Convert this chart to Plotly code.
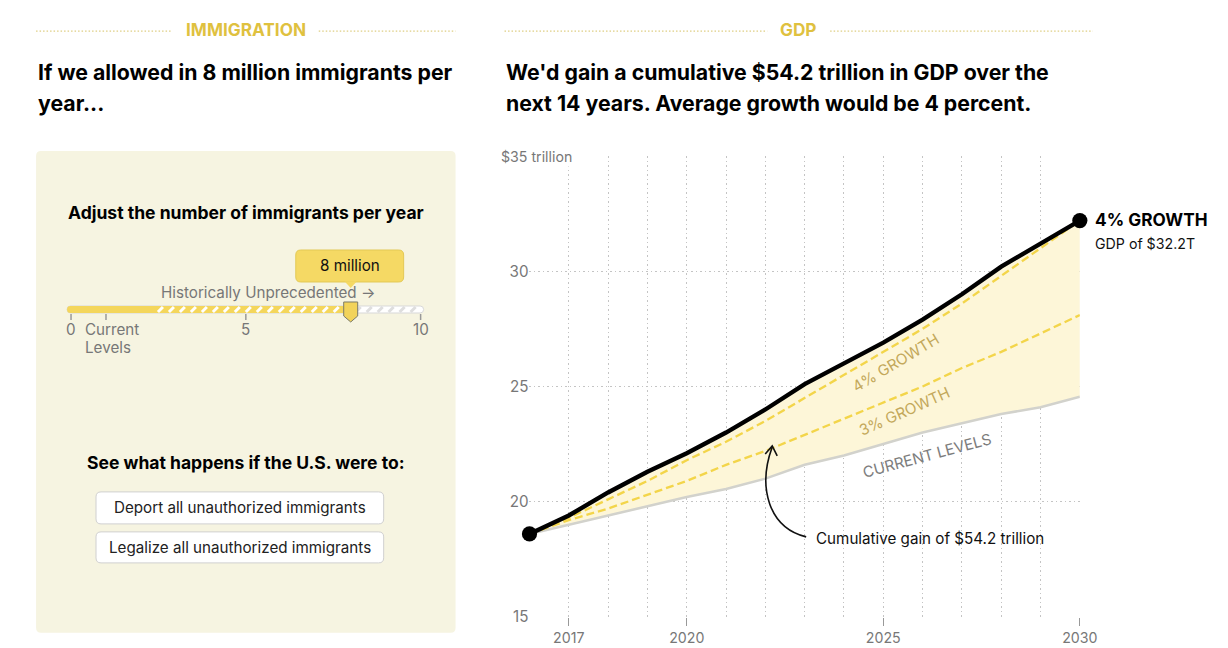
import plotly.graph_objects as go

# The photographed page adds an 8px body margin and is shrunk a little;
# positions below are given in window pixels and mapped back to figure pixels.
W, H = 1228, 648
OFF = 8
S = 0.9865

# GDP in trillions of dollars
years = list(range(2016, 2031))
gdp_8m = [18.6, 19.4, 20.4, 21.3, 22.1, 23.0, 24.0, 25.1, 26.0, 26.9, 27.9, 29.0, 30.2, 31.2, 32.2]
gdp_4pct = [18.6, 19.3, 20.1, 20.9, 21.8, 22.6, 23.5, 24.5, 25.5, 26.5, 27.5, 28.6, 29.8, 31.0, 32.2]
gdp_3pct = [18.6, 19.2, 19.7, 20.3, 20.9, 21.6, 22.2, 22.9, 23.6, 24.3, 25.0, 25.8, 26.5, 27.3, 28.1]
gdp_current = [18.6, 19.0, 19.4, 19.8, 20.2, 20.55, 21.0, 21.6, 22.0, 22.5, 23.0, 23.4, 23.8, 24.1, 24.55]

x_ticks = [2017, 2020, 2025, 2030]
y_ticks = [15, 20, 25, 30, 35]
y_ticktext = ["15", "20", "25", "30", ""]

# slider (millions of immigrants per year)
slider_ticks = [0, 1, 5, 10]
slider_value = 8

FONT = "Inter"
GOLD = "#dfc13f"
YELLOW = "#f4d65b"
GRID = "#c4c4c4"
GRID_DASH = "1.5px,3px"


def px(x):
    return (x / S - OFF) / W


def py(y):
    return 1 - (y / S - OFF) / H


def fs(size):
    return size / S


def pt(x, y):
    return f"{px(x):.5f},{py(y):.5f}"


def path(points, close=True):
    s = "M " + " L ".join(pt(x, y) for x, y in points)
    return s + (" Z" if close else "")


def rounded_rect(x0, y0, x1, y1, r):
    return (f"M {pt(x0 + r, y0)} L {pt(x1 - r, y0)} Q {pt(x1, y0)} {pt(x1, y0 + r)} "
            f"L {pt(x1, y1 - r)} Q {pt(x1, y1)} {pt(x1 - r, y1)} L {pt(x0 + r, y1)} "
            f"Q {pt(x0, y1)} {pt(x0, y1 - r)} L {pt(x0, y0 + r)} Q {pt(x0, y0)} {pt(x0 + r, y0)} Z")


fig = go.Figure()

fig.add_trace(go.Scatter(x=years, y=gdp_current, mode="lines",
                         line=dict(color="#d2d2cc", width=fs(2.5)), hoverinfo="skip"))
fig.add_trace(go.Scatter(x=years, y=gdp_8m, mode="lines", fill="tonexty",
                         fillcolor="#fdf6d8", line=dict(width=0), hoverinfo="skip"))
fig.add_trace(go.Scatter(x=years, y=gdp_3pct, mode="lines",
                         line=dict(color="#f3d54a", width=fs(2.3), dash="8px,4px"), hoverinfo="skip"))
fig.add_trace(go.Scatter(x=years, y=gdp_4pct, mode="lines",
                         line=dict(color="#f3d54a", width=fs(2.3), dash="8px,4px"), hoverinfo="skip"))
fig.add_trace(go.Scatter(x=years, y=gdp_8m, mode="lines",
                         line=dict(color="#000000", width=fs(4.3)), hoverinfo="skip"))
fig.add_trace(go.Scatter(x=[years[0], years[-1]], y=[gdp_8m[0], gdp_8m[-1]], mode="markers",
                         marker=dict(color="#000000", size=fs(15)), cliponaxis=False, hoverinfo="skip"))

shapes = []
ann = []


def text(x, y, s, size=14, color="#000", anchor="left", bold=False, angle=0, bg=None):
    d = dict(x=px(x), y=py(y), xref="paper", yref="paper", text=f"<b>{s}</b>" if bold else s,
             showarrow=False, xanchor=anchor, yanchor="middle", textangle=angle,
             font=dict(family=FONT, size=fs(size), color=color))
    if bg:
        d["bgcolor"] = bg
    ann.append(d)


# section headers with dotted rules
text(246, 29, "IMMIGRATION", 17, GOLD, "center", True)
text(799, 29, "GDP", 17, GOLD, "center", True)
for x0, x1 in [(36, 172), (319, 456), (505, 768), (831, 1094)]:
    shapes.append(dict(type="line", xref="paper", yref="paper", x0=px(x0), x1=px(x1),
                       y0=py(31), y1=py(31), line=dict(color="#d6c263", width=1, dash="1.5px,2px")))

text(36, 72, "If we allowed in 8 million immigrants per", 21, "#000", bold=True)
text(36, 103, "year...", 21, "#000", bold=True)
text(504, 72, "We'd gain a cumulative $54.2 trillion in GDP over the", 21, "#000", bold=True)
text(504, 103, "next 14 years. Average growth would be 4 percent.", 21, "#000", bold=True)

# left panel
shapes.append(dict(type="path", xref="paper", yref="paper", path=rounded_rect(36, 151, 456, 633, 5),
                   fillcolor="#f6f4e1", line=dict(width=0), layer="below"))
text(246, 212, "Adjust the number of immigrants per year", 17.3, "#000", "center", True)

s_x0, s_x1 = 71, 421
sx = lambda v: s_x0 + (s_x1 - s_x0) * v / 10
thumb = sx(slider_value)

# slider track
shapes.append(dict(type="path", xref="paper", yref="paper", path=rounded_rect(67, 306, 424, 313, 3.5),
                   fillcolor="#ffffff", line=dict(color="#d8d8d8", width=1)))
shapes.append(dict(type="path", xref="paper", yref="paper", path=rounded_rect(67, 306, thumb, 313, 3.5),
                   fillcolor=YELLOW, line=dict(width=0)))
x = 158
while x < 421:
    col = "#ffffff" if x < thumb - 4 else "#dedede"
    if x + 5 < 422:
        shapes.append(dict(type="line", xref="paper", yref="paper", x0=px(x), x1=px(x + 5),
                           y0=py(312), y1=py(307), line=dict(color=col, width=3)))
    x += 11

for v in slider_ticks:
    shapes.append(dict(type="line", xref="paper", yref="paper", x0=px(sx(v)), x1=px(sx(v)),
                       y0=py(314), y1=py(320), line=dict(color="#999999", width=1.5)))
text(sx(0), 330, "0", 15, "#777", "center")
text(sx(1) - 23, 330, "Current", 15, "#777", "left")
text(sx(1) - 23, 348, "Levels", 15, "#777", "left")
text(sx(5), 330, "5", 15, "#777", "center")
text(sx(10), 330, "10", 15, "#777", "center")

# thumb
shapes.append(dict(type="path", xref="paper", yref="paper",
                   path=path([(thumb - 7, 302), (thumb + 7, 302), (thumb + 7, 316), (thumb, 322), (thumb - 7, 316)]),
                   fillcolor="#f2d35a", line=dict(color="#7a7a6a", width=1)))

# tooltip
shapes.append(dict(type="path", xref="paper", yref="paper", path=rounded_rect(296, 250, 404, 282, 5),
                   fillcolor="#f5d964", line=dict(color="#e3c955", width=1)))
shapes.append(dict(type="path", xref="paper", yref="paper",
                   path=path([(thumb - 6, 281.5), (thumb + 6, 281.5), (thumb, 288)]),
                   fillcolor="#f5d964", line=dict(width=0)))
text(350, 265, "8 million", 15, "#111", "center")
text(159, 293, "Historically Unprecedented \u2192", 15, "#777", "left")

text(246, 463, "See what happens if the U.S. were to:", 17.3, "#000", "center", True)
for (y0, y1), label in zip([(492, 524), (532, 563)],
                           ["Deport all unauthorized immigrants", "Legalize all unauthorized immigrants"]):
    shapes.append(dict(type="path", xref="paper", yref="paper", path=rounded_rect(96, y0, 384, y1, 5),
                       fillcolor="#ffffff", line=dict(color="#d0d0d0", width=1)))
    text(240, (y0 + y1) / 2, label, 15, "#222", "center")

# chart annotations
text(499, 156, "$35 trillion", 14, "#777", "left", bg="#ffffff")
text(1094, 219, "4% GROWTH", 17, "#000", "left", True)
text(1094, 243, "GDP of $32.2T", 14, "#111", "left")
text(897, 363, "4% GROWTH", 15, "#c3a85a", "center", angle=-31)
text(905, 412, "3% GROWTH", 15, "#c3a85a", "center", angle=-24)
text(928, 456, "CURRENT LEVELS", 15, "#7d7d7d", "center", angle=-15)
text(815, 539, "Cumulative gain of $54.2 trillion", 15, "#111", "left")

shapes.append(dict(type="path", xref="paper", yref="paper",
                   path=f"M {pt(807, 537)} C {pt(770, 528)} {pt(758, 488)} {pt(773, 447)}",
                   line=dict(color="#111", width=1.6)))
shapes.append(dict(type="path", xref="paper", yref="paper",
                   path=path([(766, 454), (773, 446), (778, 456)], close=False),
                   line=dict(color="#111", width=1.6)))

fig.update_layout(
    width=W, height=H,
    margin=dict(l=0, r=0, t=0, b=0),
    paper_bgcolor="#ffffff", plot_bgcolor="#ffffff",
    showlegend=False,
    shapes=shapes, annotations=ann,
    xaxis=dict(domain=[px(530), px(1081)], range=[2016, 2030], tickvals=x_ticks,
               ticks="outside", ticklen=fs(8), tickcolor="#999", tickwidth=1,
               showgrid=True, gridcolor=GRID, griddash=GRID_DASH, gridwidth=1,
               minor=dict(tick0=2016, dtick=1, showgrid=True, gridcolor=GRID, griddash=GRID_DASH, ticks=""),
               zeroline=False, showline=False,
               tickfont=dict(family=FONT, size=fs(14), color="#777")),
    yaxis=dict(domain=[py(617), py(156)], range=[15, 35], tickvals=y_ticks, ticktext=y_ticktext,
               showgrid=True, gridcolor=GRID, griddash=GRID_DASH, gridwidth=1,
               zeroline=False, showline=False, ticks="",
               tickfont=dict(family=FONT, size=fs(15), color="#777")),
)

fig.write_html("out.html")
